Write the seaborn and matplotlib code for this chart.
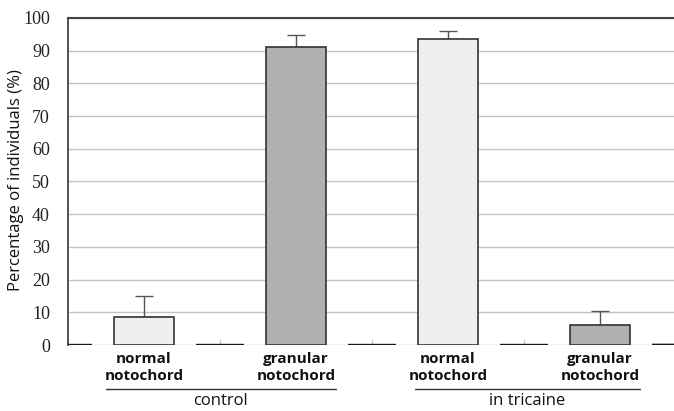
import matplotlib
matplotlib.use("Agg")
import matplotlib.pyplot as plt
import matplotlib.transforms as mtransforms
import seaborn as sns
import pandas as pd
import numpy as np

# ---- data ----
groups = ["control", "control", "in tricaine", "in tricaine"]
types = ["normal", "granular", "normal", "granular"]
tick_labels = ["normal\nnotochord", "granular\nnotochord", "normal\nnotochord", "granular\nnotochord"]
values = [8.5, 91.2, 93.6, 6.1]
errors = [6.5, 3.6, 2.3, 4.3]
zero_bar_values = [0, 0, 0, 0, 0]
zero_bar_errors = [0, 1.8, 1.8, 1.8, 0]
group_names = ["control", "in tricaine"]
y_ticks = [0, 10, 20, 30, 40, 50, 60, 70, 80, 90, 100]

keys = [f"{g} {t}" for g, t in zip(groups, types)]
df = pd.DataFrame({"key": keys, "type": types, "value": values})

sns.set_style("white")
plt.rcParams["font.family"] = ["DejaVu Sans"]

fig = plt.figure(figsize=(6.74, 4.11), dpi=100)
ax = fig.add_axes([68 / 674, 66 / 411, 608 / 674, 327 / 411])

sns.barplot(data=df, x="key", y="value", hue="type", order=keys,
            palette={"normal": "#efefef", "granular": "#b0b0b0"},
            width=0.40, edgecolor="#333333", linewidth=1.2,
            legend=False, errorbar=None, ax=ax, zorder=3)

# centers of real bars
centers = np.arange(len(keys))
ax.errorbar(centers, values, yerr=[np.zeros(len(values)), errors], fmt="none",
            ecolor="#555555", elinewidth=1.0, capsize=6.5, capthick=1.0, zorder=2)

# zero-height bars between categories (drawn as dark segments at baseline)
zero_pos = np.arange(len(zero_bar_values)) - 0.5
ax.bar(zero_pos, zero_bar_values, width=0.32, bottom=0, color="none",
       edgecolor="#1a1a1a", linewidth=1.7, zorder=3)
ax.vlines(zero_pos, 0, zero_bar_errors, color="#c8c8c8", linewidth=0.9, zorder=2)

ax.set_xlim(-0.5, 3.5)
ax.set_ylim(0, 100)
ax.set_yticks(y_ticks)
ax.set_yticklabels([str(v) for v in y_ticks], family="Liberation Serif", fontsize=13)
ax.tick_params(axis="y", length=0, pad=13, colors="#222222")
ax.tick_params(axis="x", length=0, pad=5)
ax.set_xticks(centers)
ax.set_xticklabels(tick_labels, fontsize=11, fontweight="bold", family="Open Sans",
                   linespacing=1.3, color="#111111")

ax.yaxis.grid(True, color="#c4c4c4", linewidth=1.0, zorder=0)
ax.set_axisbelow(True)
ax.set_xlabel("")
ax.set_ylabel("Percentage of individuals (%)", fontsize=12, family="Open Sans",
              color="#111111")
ax.yaxis.set_label_coords(-0.072, 0.505)

for s in ["bottom", "right"]:
    ax.spines[s].set_visible(False)
ax.spines["left"].set_color("#444444")
ax.spines["left"].set_linewidth(1.3)
ax.spines["top"].set_color("#444444")
ax.spines["top"].set_linewidth(1.5)

# group underline and labels
trans = mtransforms.blended_transform_factory(ax.transData, ax.transAxes)
spans = [(-0.25, 1.26), (1.78, 3.26)]
for (x0, x1), name in zip(spans, group_names):
    ax.plot([x0, x1], [-0.135, -0.135], transform=trans, color="#333333",
            linewidth=1.0, clip_on=False)
    ax.text((x0 + x1) / 2, -0.17, name, transform=trans, ha="center", va="center",
            fontsize=12, family="Open Sans", color="#111111")

fig.savefig("out.png", dpi=100)
